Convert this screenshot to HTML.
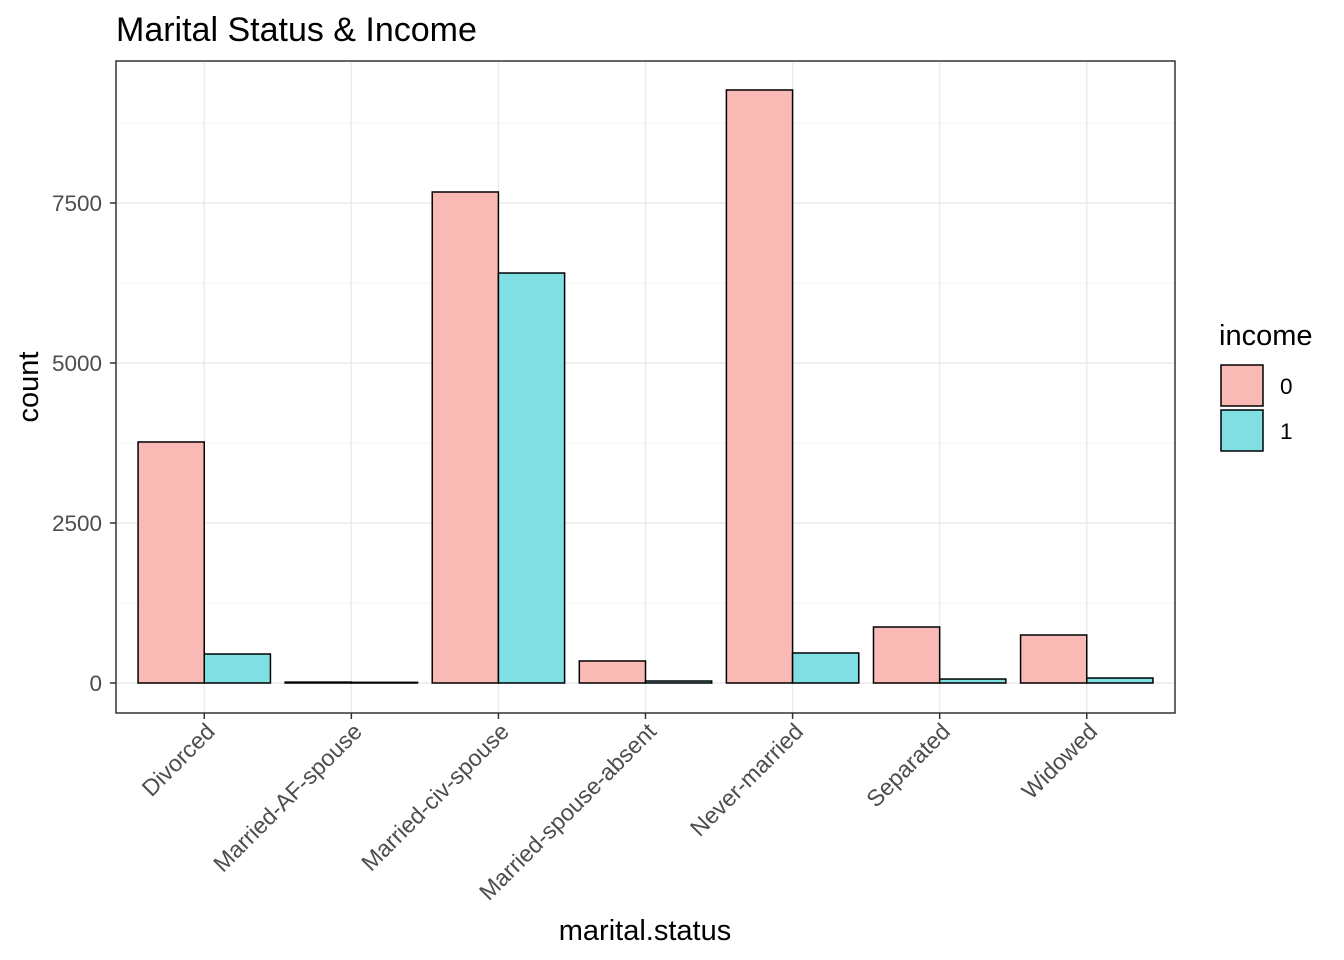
<!DOCTYPE html>
<html><head><meta charset="utf-8">
<style>body{margin:0;background:#fff}svg{display:block;font-family:"Liberation Sans",Arial,sans-serif}</style>
</head><body>
<svg id="chart" width="1344" height="960"></svg>
<script>
const categories = ["Divorced","Married-AF-spouse","Married-civ-spouse","Married-spouse-absent","Never-married","Separated","Widowed"];
const income0 = [3766, 14, 7672, 344, 9266, 875, 750];
const income1 = [453, 10, 6406, 31, 469, 62, 78];
const yTicks = [0, 2500, 5000, 7500];
const yMinor = [1250, 3750, 6250, 8750];
const seriesNames = ["0","1"];
const colors = ["#F9B9B5","#80DFE2"];

const NS = "http://www.w3.org/2000/svg";
const svg = document.getElementById("chart");
const P = {l:116, r:1175, t:61, b:713};
const step = (P.r - P.l) / (categories.length + 0.2);
function xs(i){ return P.l + step*0.6 + i*step; }
function ys(v){ return 683 - v*0.064; }
function mk(tag, attrs, parent){ const e=document.createElementNS(NS,tag); for(const k in attrs) e.setAttribute(k,attrs[k]); (parent||svg).appendChild(e); return e; }

const panel = mk("rect",{x:P.l,y:P.t,width:P.r-P.l,height:P.b-P.t,fill:"#fff"});


yMinor.forEach(v=>{ const l=mk("line",{x1:P.l,x2:P.r,y1:ys(v),y2:ys(v),stroke:"#F4F4F4","stroke-width":1});
   });
yTicks.forEach(v=>{ const l=mk("line",{x1:P.l,x2:P.r,y1:ys(v),y2:ys(v),stroke:"#EBEBEB","stroke-width":1.5});
   });
categories.forEach((c,i)=>{ const l=mk("line",{x1:xs(i),x2:xs(i),y1:P.t,y2:P.b,stroke:"#EBEBEB","stroke-width":1.5});
   });

const bw = step*0.45;
[income0,income1].forEach((arr,s)=>{
 arr.forEach((v,i)=>{
  const x = xs(i) - bw + s*bw;
  const r = mk("rect",{x:x,y:ys(v),width:bw,height:Math.max(ys(0)-ys(v),0.5),fill:colors[s],stroke:"#000","stroke-width":1.5});
  
  
 });
});

const border = mk("rect",{x:P.l,y:P.t,width:P.r-P.l,height:P.b-P.t,fill:"none",stroke:"#333","stroke-width":1.5});



yTicks.forEach(v=>{
 const t=mk("line",{x1:P.l-6,x2:P.l,y1:ys(v),y2:ys(v),stroke:"#333","stroke-width":1.5});
  
 const tx=mk("text",{x:P.l-14,y:ys(v)+8,"text-anchor":"end","font-size":22.5,fill:"#4D4D4D"});
 tx.textContent=v;
  
});
categories.forEach((c,i)=>{
 const t=mk("line",{x1:xs(i),x2:xs(i),y1:P.b,y2:P.b+6,stroke:"#333","stroke-width":1.5});
  
 const ax=xs(i)+12, ay=733;
 const tx=mk("text",{x:ax,y:ay,"text-anchor":"end","font-size":23.2,fill:"#4D4D4D",transform:`rotate(-45 ${ax} ${ay})`});
 tx.textContent=c;
  
});

let e;
e=mk("text",{x:116,y:41,"font-size":34,fill:"#000"}); e.textContent="Marital Status & Income";
 
e=mk("text",{x:645,y:940,"text-anchor":"middle","font-size":29,fill:"#000"}); e.textContent="marital.status";
 
e=mk("text",{x:38,y:387,"text-anchor":"middle","font-size":29,fill:"#000",transform:"rotate(-90 38 387)"}); e.textContent="count";
 
e=mk("text",{x:1219,y:345,"font-size":29,fill:"#000"}); e.textContent="income";
 
seriesNames.forEach((n,s)=>{
 const y=365+s*45;
 const r=mk("rect",{x:1221,y:y,width:42,height:41,fill:colors[s],stroke:"#000","stroke-width":1.5});
  
 const t=mk("text",{x:1280,y:y+29,"font-size":22.5,fill:"#000"}); t.textContent=n;
  
});
</script>
</body></html>
